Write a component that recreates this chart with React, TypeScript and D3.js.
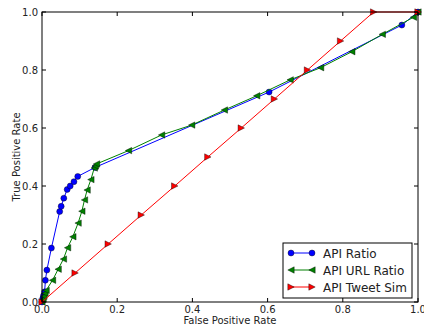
import React from "react";
import * as d3 from "d3";

const apiRatioFpr = [0, 0.002, 0.004, 0.007, 0.009, 0.013, 0.025, 0.047, 0.051, 0.058, 0.067, 0.075, 0.085, 0.095, 0.141, 0.604, 0.957, 1];
const apiRatioTpr = [0, 0.012, 0.022, 0.035, 0.075, 0.11, 0.186, 0.312, 0.33, 0.358, 0.388, 0.4, 0.415, 0.433, 0.464, 0.724, 0.955, 1];

const apiUrlFpr = [0, 0.003, 0.005, 0.008, 0.011, 0.028, 0.043, 0.057, 0.068, 0.082, 0.096, 0.106, 0.113, 0.12, 0.13, 0.139, 0.142, 0.145, 0.23, 0.318, 0.398, 0.485, 0.571, 0.66, 0.741, 0.824, 0.905, 0.988, 1];
const apiUrlTpr = [0, 0.01, 0.02, 0.03, 0.04, 0.075, 0.113, 0.148, 0.187, 0.225, 0.272, 0.313, 0.352, 0.386, 0.422, 0.462, 0.469, 0.476, 0.522, 0.576, 0.61, 0.662, 0.711, 0.766, 0.808, 0.863, 0.923, 0.982, 1];

const tweetSimFpr = [0, 0.088, 0.176, 0.264, 0.353, 0.441, 0.53, 0.618, 0.706, 0.794, 0.882, 1];
const tweetSimTpr = [0, 0.1, 0.2, 0.3, 0.4, 0.5, 0.6, 0.7, 0.8, 0.9, 1.0, 1.0];

const tickValues = [0, 0.2, 0.4, 0.6, 0.8, 1.0];
const seriesNames = ["API Ratio", "API URL Ratio", "API Tweet Sim"];
const seriesColors = ["#0000ff", "#008000", "#ff0000"];

const W = 424, H = 330;
const L = 42, R = 418, T = 12, B = 302;

function marker(kind: string, x: number, y: number, color: string, key: string) {
  if (kind === "circle") {
    return <circle key={key} cx={x} cy={y} r={3} fill={color} stroke="#000" strokeWidth={0.4} />;
  }
  const s = 3.2;
  const d = kind === "left"
    ? `M${x - s},${y} L${x + s},${y - s} L${x + s},${y + s} Z`
    : `M${x + s},${y} L${x - s},${y - s} L${x - s},${y + s} Z`;
  return <path key={key} d={d} fill={color} stroke="#000" strokeWidth={0.4} />;
}

export default function App() {
  const x = d3.scaleLinear().domain([0, 1]).range([L, R]);
  const y = d3.scaleLinear().domain([0, 1]).range([B, T]);
  const line = d3.line<[number, number]>().x(d => x(d[0])).y(d => y(d[1]));
  const series = [
    { pts: apiRatioFpr.map((v, i) => [v, apiRatioTpr[i]] as [number, number]), kind: "circle" },
    { pts: apiUrlFpr.map((v, i) => [v, apiUrlTpr[i]] as [number, number]), kind: "left" },
    { pts: tweetSimFpr.map((v, i) => [v, tweetSimTpr[i]] as [number, number]), kind: "right" },
  ];
  const font = "DejaVu Sans, sans-serif";
  const lx = 283, ly = 243, lw = 129, lh = 55;
  return (
    <svg width={W} height={H} style={{ position: "absolute", left: 0, top: 0, background: "#fff" }} fontFamily={font}>
      <rect x={0} y={0} width={W} height={H} fill="#fff" />
      <defs>
        <clipPath id="plotclip"><rect x={L - 4} y={T - 4} width={R - L + 8} height={B - T + 8} /></clipPath>
      </defs>
      <g clipPath="url(#plotclip)">
        {series.map((s, si) => (
          <g key={si}>
            <path d={line(s.pts) || ""} fill="none" stroke={seriesColors[si]} strokeWidth={1} />
            {s.pts.map((p, i) => marker(s.kind, x(p[0]), y(p[1]), seriesColors[si], `${si}-${i}`))}
          </g>
        ))}
      </g>
      <rect x={L} y={T} width={R - L} height={B - T} fill="none" stroke="#000" strokeWidth={1} />
      {tickValues.map((t, i) => (
        <g key={i}>
          <line x1={x(t)} x2={x(t)} y1={B} y2={B - 4} stroke="#000" />
          <line x1={x(t)} x2={x(t)} y1={T} y2={T + 4} stroke="#000" />
          <line x1={L} x2={L + 4} y1={y(t)} y2={y(t)} stroke="#000" />
          <line x1={R} x2={R - 4} y1={y(t)} y2={y(t)} stroke="#000" />
          <text x={x(t)} y={B + 11} fontSize={10} textAnchor="middle" fill="#222">{t.toFixed(1)}</text>
          <text x={L - 4} y={y(t) + 4} fontSize={10} textAnchor="end" fill="#222">{t.toFixed(1)}</text>
        </g>
      ))}
      <text x={(L + R) / 2} y={324} fontSize={10} textAnchor="middle" fill="#222">False Positive Rate</text>
      <text transform={`translate(20,${(T + B) / 2}) rotate(-90)`} fontSize={10} textAnchor="middle" fill="#222">True Positive Rate</text>
      <rect x={lx} y={ly} width={lw} height={lh} fill="#fff" stroke="#000" strokeWidth={1} />
      {seriesNames.map((n, i) => {
        const yy = ly + 10 + i * 17;
        const kind = series[i].kind;
        return (
          <g key={n}>
            <line x1={lx + 8} x2={lx + 29} y1={yy} y2={yy} stroke={seriesColors[i]} strokeWidth={1} />
            {marker(kind, lx + 8, yy, seriesColors[i], `l${i}a`)}
            {marker(kind, lx + 29, yy, seriesColors[i], `l${i}b`)}
            <text x={lx + 40} y={yy + 4.5} fontSize={12} fill="#222">{n}</text>
          </g>
        );
      })}
    </svg>
  );
}
